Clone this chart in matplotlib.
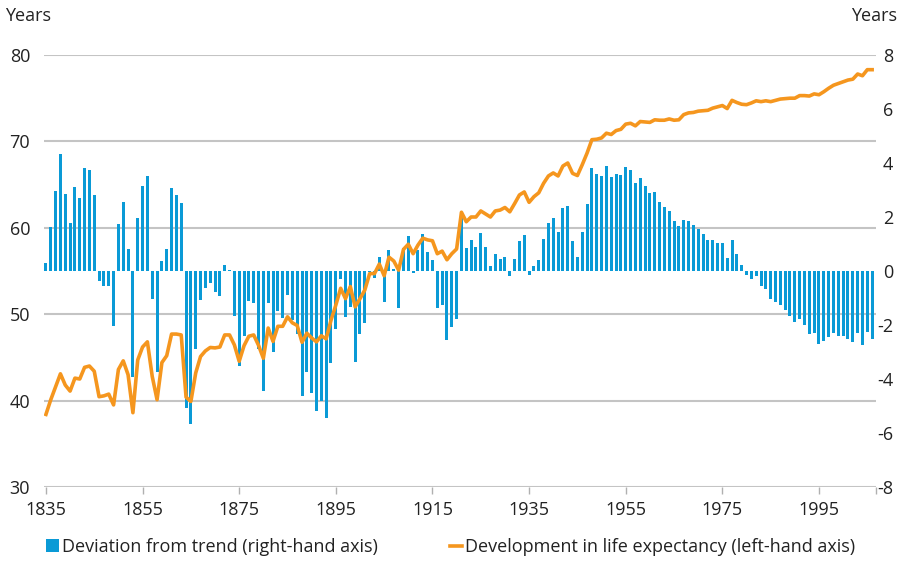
import matplotlib
matplotlib.use("Agg")
import matplotlib.pyplot as plt
from matplotlib.patches import Patch
from matplotlib.lines import Line2D
import numpy as np

plt.rcParams['font.family'] = ['Open Sans', 'DejaVu Sans']
plt.rcParams['axes.unicode_minus'] = False

years = list(range(1835, 2007))

# deviation from trend, years (right-hand axis)
deviation = [
    0.31, 1.62, 2.95, 4.32, 2.84, 1.77, 3.10, 2.69, 3.80, 3.73,
    2.80, -0.37, -0.56, -0.56, -2.04, 1.73, 2.54, 0.80, -3.93, 1.95,
    3.14, 3.51, -1.05, -3.73, 0.37, 0.81, 3.07, 2.81, 2.52, -5.09,
    -5.68, -2.88, -1.09, -0.64, -0.43, -0.77, -0.91, 0.21, 0.04, -1.68,
    -3.53, -2.41, -1.11, -1.19, -2.89, -4.44, -1.19, -3.00, -1.48, -1.73,
    -0.89, -1.81, -2.35, -4.62, -3.73, -4.50, -5.20, -4.80, -5.43, -3.40,
    -2.13, -0.31, -1.70, -1.33, -3.36, -2.35, -1.92, -0.05, -0.25, 0.51,
    -1.14, 0.78, 0.06, -1.36, 0.86, 1.30, -0.06, 0.78, 1.37, 0.70,
    0.41, -1.36, -1.26, -2.55, -2.06, -1.78, 2.20, 0.85, 1.15, 0.89,
    1.42, 0.89, 0.19, 0.63, 0.44, 0.52, -0.17, 0.44, 1.12, 1.33,
    -0.14, 0.19, 0.41, 1.19, 1.78, 1.96, 1.44, 2.33, 2.41, 1.11,
    0.52, 1.44, 2.48, 3.81, 3.59, 3.52, 3.89, 3.48, 3.59, 3.56,
    3.85, 3.74, 3.26, 3.44, 3.15, 2.89, 2.93, 2.56, 2.37, 2.22,
    1.85, 1.67, 1.89, 1.85, 1.70, 1.56, 1.37, 1.15, 1.15, 1.04,
    1.04, 0.48, 1.15, 0.63, 0.22, -0.15, -0.30, -0.19, -0.54, -0.65,
    -1.02, -1.14, -1.25, -1.43, -1.65, -1.88, -1.77, -1.99, -2.32, -2.28,
    -2.69, -2.58, -2.43, -2.28, -2.40, -2.40, -2.51, -2.62, -2.28, -2.73,
    -2.25, -2.51,
]

# life expectancy, years (left-hand axis)
life_exp = [
    38.4, 40.1, 41.6, 43.1, 41.8, 41.1, 42.6, 42.5, 43.85, 44.0,
    43.4, 40.45, 40.55, 40.75, 39.5, 43.6, 44.6, 43.0, 38.6, 44.7,
    46.2, 46.8, 42.8, 40.1, 44.4, 45.2, 47.7, 47.7, 47.6, 40.4,
    39.9, 43.2, 45.1, 45.75, 46.15, 46.1, 46.2, 47.6, 47.6, 46.45,
    44.55, 46.35, 47.45, 47.6, 46.4, 44.9, 48.4, 46.85, 48.6, 48.6,
    49.7, 49.0, 48.7, 46.75, 47.8, 47.25, 46.8, 47.5, 47.15, 49.3,
    51.05, 53.0, 51.8, 53.2, 50.85, 51.8, 52.8, 54.7, 54.7, 55.8,
    54.45, 56.6, 56.15, 55.1, 57.5, 58.1, 57.0, 58.0, 58.8, 58.6,
    58.5, 57.0, 57.3, 56.3, 57.0, 57.55, 61.8, 60.7, 61.25, 61.25,
    61.95, 61.6, 61.25, 61.95, 62.05, 62.35, 61.85, 62.8, 63.8, 64.15,
    62.95, 63.6, 64.05, 65.15, 66.0, 66.35, 66.0, 67.15, 67.5, 66.3,
    66.05, 67.3, 68.65, 70.2, 70.25, 70.4, 70.95, 70.8, 71.25, 71.4,
    72.0, 72.1, 71.8, 72.3, 72.25, 72.2, 72.5, 72.45, 72.45, 72.6,
    72.45, 72.5, 73.1, 73.3, 73.35, 73.5, 73.55, 73.6, 73.85, 74.0,
    74.15, 73.8, 74.75, 74.5, 74.3, 74.25, 74.45, 74.7, 74.6, 74.7,
    74.6, 74.75, 74.9, 74.95, 75.0, 75.0, 75.3, 75.3, 75.25, 75.5,
    75.4, 75.75, 76.15, 76.5, 76.7, 76.9, 77.1, 77.2, 77.8, 77.6,
    78.3, 78.3,
]

xticks = list(range(1835, 2000, 20))
left_ticks = [30, 40, 50, 60, 70, 80]
right_ticks = [-8, -6, -4, -2, 0, 2, 4, 6, 8]

blue = '#0a9ad6'
orange = '#f5961e'
grey = '#c4c4c4'
txt = '#222222'
fs = 13

fig = plt.figure(figsize=(9.08, 5.61), dpi=100)
ax = fig.add_axes([44 / 908, 1 - 487 / 561, 832 / 908, 432 / 561])
ax.set_xlim(1834.6, 2006.8)
ax.set_ylim(30, 80)
ax.set_yticks(left_ticks)
ax.grid(axis='y', color=grey, lw=1.5)
ax.set_axisbelow(True)
for s in ax.spines.values():
    s.set_visible(False)
ax.set_xticks(xticks)
ax.set_xticks([2006.8], minor=True)
ax.tick_params(axis='x', which='both', length=5, width=1, color='#b0b0b0', pad=5,
               labelsize=fs, labelcolor=txt)
ax.tick_params(axis='y', length=0, pad=10, labelsize=fs, labelcolor=txt)

# bars on the right-hand scale
ax2 = ax.twinx()
ax2.bar(years, deviation, width=0.62, color=blue, zorder=2)
ax2.set_ylim(-8, 8)
ax2.set_yticks(right_ticks)
for s in ax2.spines.values():
    s.set_visible(False)
ax2.tick_params(axis='y', length=0, pad=12.5, labelsize=fs, labelcolor=txt)

# line on the left-hand scale, drawn on top
ax3 = ax.twinx()
ax3.plot(years, life_exp, color=orange, lw=2.6, solid_joinstyle='round')
ax3.set_ylim(30, 80)
ax3.set_yticks([])
for s in ax3.spines.values():
    s.set_visible(False)

fig.text(5 / 908, 1 - 16 / 561, 'Years', ha='left', va='center', fontsize=fs, color=txt)
fig.text(897 / 908, 1 - 16 / 561, 'Years', ha='right', va='center', fontsize=fs, color=txt)

handles = [Patch(facecolor=blue, edgecolor='none'),
           Line2D([], [], color=orange, lw=2.6)]
labels = ['Deviation from trend (right-hand axis)',
          'Development in life expectancy (left-hand axis)']
fig.legend(handles, labels, loc='center left', bbox_to_anchor=(30 / 908, 1 - 547 / 561),
           ncol=2, frameon=False, fontsize=fs, handlelength=0.7, handleheight=0.7,
           handletextpad=0.15, columnspacing=4.0, labelcolor=txt)

fig.canvas.draw()
for lbl in ax2.yaxis.get_majorticklabels():
    lbl.set_horizontalalignment('right')

fig.savefig('out.png', dpi=100)
